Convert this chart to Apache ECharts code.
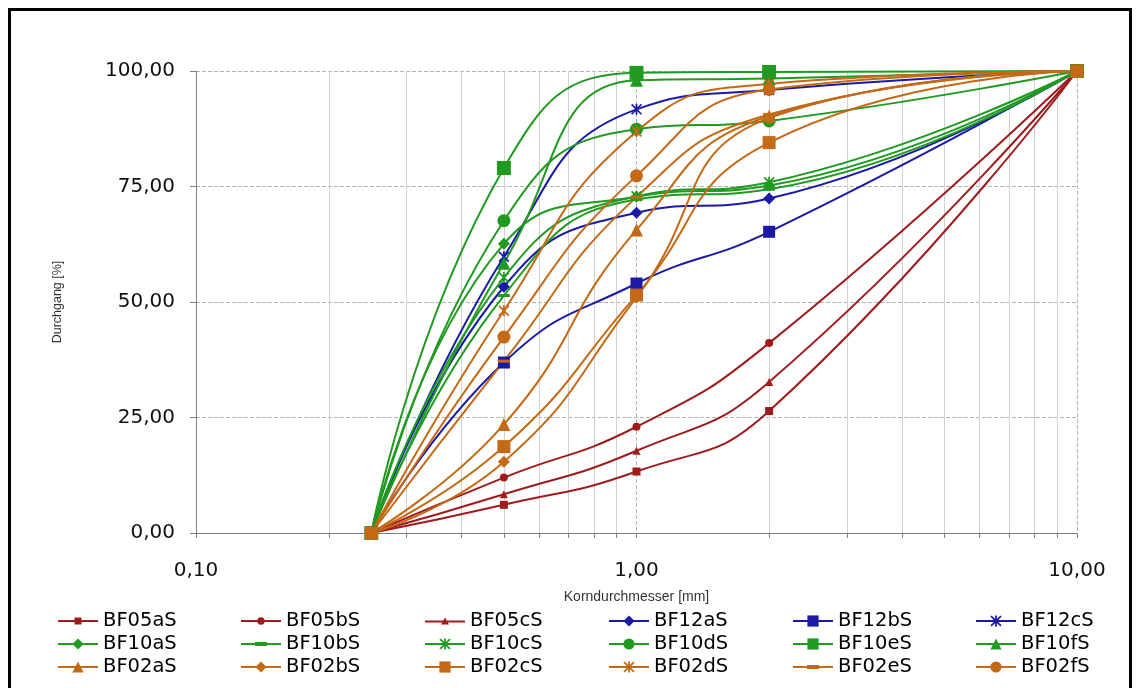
<!DOCTYPE html>
<html>
<head>
<meta charset="utf-8">
<script src="https://cdn.jsdelivr.net/npm/echarts@6/dist/echarts.min.js"></script>
<style>
    html, body { margin: 0; padding: 0; background: #fff; }
    #chart { width: 1141px; height: 688px; }
</style>
</head>
<body>
<div id="chart"></div>
<script>
// sieve sizes in mm (x) and passing in % (y)
const sieveSizes = [0.25, 0.5, 1, 2, 10]

const BF05aS = [0, 6.1, 13.3, 26.4, 100]
const BF05bS = [0, 12.0, 23.0, 41.1, 100]
const BF05cS = [0, 8.4, 17.8, 32.7, 100]
const BF12aS = [0, 53.3, 69.3, 72.4, 100]
const BF12bS = [0, 36.9, 54.0, 65.2, 100]
const BF12cS = [0, 59.8, 91.7, 95.9, 100]
const BF10aS = [0, 62.6, 72.8, 75.2, 100]
const BF10bS = [0, 51.4, 72.2, 74.4, 100]
const BF10cS = [0, 55.3, 72.9, 75.9, 100]
const BF10dS = [0, 67.6, 87.4, 89.2, 100]
const BF10eS = [0, 79.0, 99.6, 99.8, 100]
const BF10fS = [0, 58.4, 98.0, 98.4, 100]
const BF02aS = [0, 23.5, 65.6, 90.2, 100]
const BF02bS = [0, 15.4, 51.0, 89.8, 100]
const BF02cS = [0, 18.7, 51.5, 84.5, 100]
const BF02dS = [0, 48.1, 86.9, 97.2, 100]
const BF02eS = [0, 37.2, 72.7, 90.6, 100]
const BF02fS = [0, 42.4, 77.3, 96.0, 100]

const yTicks = [0, 25, 50, 75, 100]
const minorTicks = [0.2, 0.3, 0.4, 0.5, 0.6, 0.7, 0.8, 0.9, 2, 3, 4, 5, 6, 7, 8, 9]

const legendRows = [
    ['BF05aS', 'BF05bS', 'BF05cS', 'BF12aS', 'BF12bS', 'BF12cS'],
    ['BF10aS', 'BF10bS', 'BF10cS', 'BF10dS', 'BF10eS', 'BF10fS'],
    ['BF02aS', 'BF02bS', 'BF02cS', 'BF02dS', 'BF02eS', 'BF02fS']
]

const RED = '#a01c1c'
const BLUE = '#1a1aa6'
const GREEN = '#209a20'
const ORANGE = '#c46a16'
const FONT = 'DejaVu Sans'

const STAR = 'path://M4.2,0H5.8V10H4.2Z M0,1.1L1.1,0L10,8.9L8.9,10Z M8.9,0L10,1.1L1.1,10L0,8.9Z'
const DASH = 'path://M0,0H12V3H0Z'

// legend icons (line + small marker) where the default icon does not fit
const LINE = 'M0,6H40V8H0Z '
const legendIcons = {
    rect: 'path://' + LINE + 'M16.5,3.5H23.5V10.5H16.5Z',
    circle: 'path://' + LINE + 'M16.3,7A3.7,3.7 0 1,1 23.7,7A3.7,3.7 0 1,1 16.3,7Z',
    triangle: 'path://' + LINE + 'M20,3L24,10H16Z',
    dash: 'path://' + LINE + 'M14,5H26V9H14Z'
}

const seriesDefs = [
    { name: 'BF05aS', values: BF05aS, color: RED, symbol: 'rect', size: 8, icon: 'rect' },
    { name: 'BF05bS', values: BF05bS, color: RED, symbol: 'circle', size: 8, icon: 'circle' },
    { name: 'BF05cS', values: BF05cS, color: RED, symbol: 'triangle', size: 8, icon: 'triangle' },
    { name: 'BF12aS', values: BF12aS, color: BLUE, symbol: 'diamond', size: 12 },
    { name: 'BF12bS', values: BF12bS, color: BLUE, symbol: 'rect', size: 12 },
    { name: 'BF12cS', values: BF12cS, color: BLUE, symbol: STAR, size: 11 },
    { name: 'BF10aS', values: BF10aS, color: GREEN, symbol: 'diamond', size: 12 },
    { name: 'BF10bS', values: BF10bS, color: GREEN, symbol: DASH, size: 12, icon: 'dash' },
    { name: 'BF10cS', values: BF10cS, color: GREEN, symbol: STAR, size: 11 },
    { name: 'BF10dS', values: BF10dS, color: GREEN, symbol: 'circle', size: 13 },
    { name: 'BF10eS', values: BF10eS, color: GREEN, symbol: 'rect', size: 14 },
    { name: 'BF10fS', values: BF10fS, color: GREEN, symbol: 'triangle', size: 13 },
    { name: 'BF02aS', values: BF02aS, color: ORANGE, symbol: 'triangle', size: 13 },
    { name: 'BF02bS', values: BF02bS, color: ORANGE, symbol: 'diamond', size: 12 },
    { name: 'BF02cS', values: BF02cS, color: ORANGE, symbol: 'rect', size: 13 },
    { name: 'BF02dS', values: BF02dS, color: ORANGE, symbol: STAR, size: 11 },
    { name: 'BF02eS', values: BF02eS, color: ORANGE, symbol: DASH, size: 12, icon: 'dash' },
    { name: 'BF02fS', values: BF02fS, color: ORANGE, symbol: 'circle', size: 13 }
]

const fmt = v => Number(v).toFixed(2).replace('.', ',')

const chart = echarts.init(document.getElementById('chart'), null, { renderer: 'canvas' })

const lineSeries = seriesDefs.map(def => ({
    name: def.name,
    type: 'line',
    data: sieveSizes.map((x, i) => [x, def.values[i]]),
    smooth: 0.5,
    symbol: def.symbol,
    symbolSize: def.size,
    symbolKeepAspect: true,
    showAllSymbol: true,
    lineStyle: { color: def.color, width: 2 },
    itemStyle: { color: def.color },
    emphasis: { disabled: true }
}))

// minor log grid lines + ticks, drawn through the axis scale
const minorSeries = {
    type: 'custom',
    silent: true,
    z: 1,
    data: minorTicks.map(v => [v, 0]),
    renderItem: (params, api) => {
        const bottom = api.coord([api.value(0), yTicks[0]])
        const top = api.coord([api.value(0), yTicks[yTicks.length - 1]])
        const x = Math.round(bottom[0]) + 0.5
        return {
            type: 'group',
            children: [
                { type: 'line', shape: { x1: x, y1: top[1], x2: x, y2: bottom[1] }, style: { stroke: '#d2d2d2', lineWidth: 1 } },
                { type: 'line', shape: { x1: x, y1: bottom[1], x2: x, y2: bottom[1] + 5 }, style: { stroke: '#808080', lineWidth: 1 } }
            ]
        }
    }
}

const legendItem = name => {
    const def = seriesDefs.find(d => d.name === name)
    return def.icon ? { name: name, icon: legendIcons[def.icon] } : { name: name }
}

const legendLeft = [57, 240, 424, 608, 792, 975]
const legends = legendLeft.map((left, col) => ({
    data: legendRows.map(row => legendItem(row[col])),
    orient: 'vertical',
    left: left,
    top: 611,
    padding: 0,
    itemWidth: 40,
    itemHeight: 14,
    itemGap: 3,
    selectedMode: false,
    textStyle: { fontFamily: FONT, fontSize: 19.5, color: '#000', lineHeight: 20 }
}))

chart.setOption({
    animation: false,
    backgroundColor: '#fff',
    graphic: [{
        type: 'rect',
        shape: { x: 9.5, y: 9.5, width: 1121, height: 700 },
        style: { fill: 'none', stroke: '#000', lineWidth: 3 },
        silent: true
    }],
    legend: legends,
    grid: { left: 196, right: 64, top: 71, bottom: 155 },
    xAxis: {
        type: 'log',
        logBase: 10,
        min: 0.1,
        max: 10,
        name: 'Korndurchmesser [mm]',
        nameLocation: 'middle',
        nameGap: 57,
        nameTextStyle: { fontFamily: 'Liberation Sans', fontSize: 14, color: '#333' },
        axisLine: { lineStyle: { color: '#808080', width: 1 } },
        axisTick: { length: 5, lineStyle: { color: '#808080' } },
        axisLabel: { formatter: fmt, margin: 28, fontFamily: FONT, fontSize: 20, color: '#111' },
        splitLine: { show: true, lineStyle: { color: '#b4b4b4', type: 'dashed' } },
        minorTick: { show: false },
        minorSplitLine: { show: false }
    },
    yAxis: {
        type: 'value',
        min: yTicks[0],
        max: yTicks[yTicks.length - 1],
        interval: 25,
        name: 'Durchgang [%]',
        nameLocation: 'middle',
        nameRotate: 90,
        nameGap: 132,
        nameTextStyle: { fontFamily: 'Liberation Sans', fontSize: 12.5, color: '#333' },
        axisLine: { show: true, lineStyle: { color: '#808080', width: 1 } },
        axisTick: { show: true, length: 6, lineStyle: { color: '#808080' } },
        axisLabel: { formatter: fmt, margin: 21, fontFamily: FONT, fontSize: 20, color: '#111' },
        splitLine: { show: true, lineStyle: { color: '#b4b4b4', type: 'dashed' } }
    },
    series: [minorSeries, ...lineSeries]
})
</script>
</body>
</html>
